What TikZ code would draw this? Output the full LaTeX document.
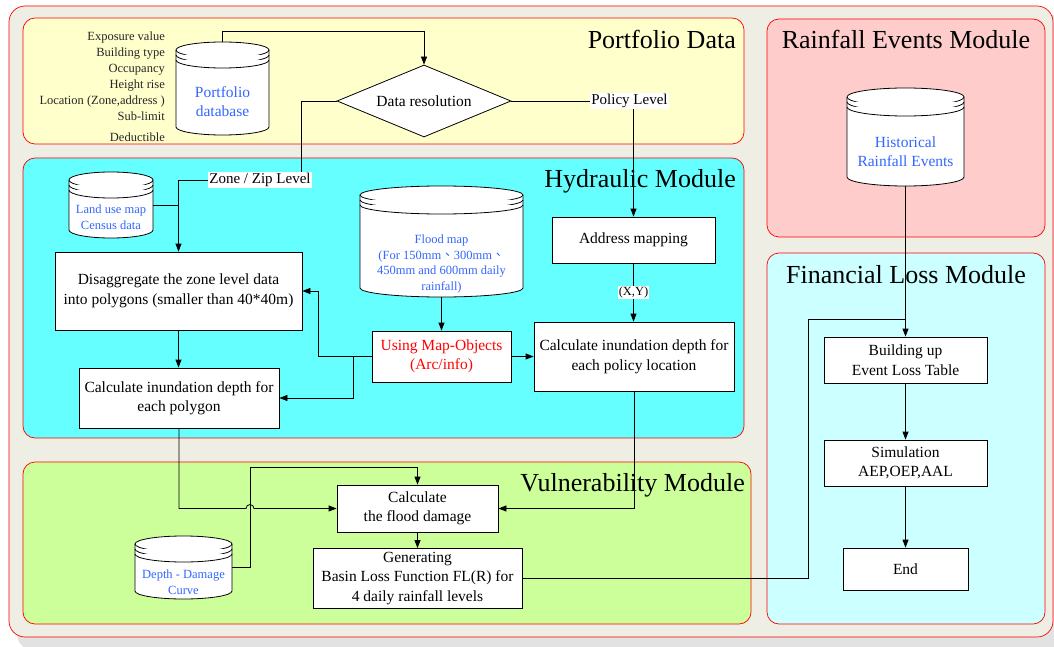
\documentclass[tikz,border=0pt]{standalone}
\usepackage{fontspec}
\setmainfont{Liberation Serif}
\newfontfamily\cjk{Noto Sans CJK TC}
\usetikzlibrary{arrows.meta,shapes.geometric}

\definecolor{framebg}{HTML}{EEEEE4}
\definecolor{shadowgray}{HTML}{E2E2E2}
\definecolor{portfoliobg}{HTML}{FFFFCC}
\definecolor{hydrobg}{HTML}{66FFFF}
\definecolor{vulnbg}{HTML}{CCFF99}
\definecolor{rainbg}{HTML}{FFCCCC}
\definecolor{finbg}{HTML}{CCFFFF}
\definecolor{dbblue}{HTML}{3366FF}

% database cylinder: name, left, top, right, bottom, half height of the ellipse
\newcommand\dbase[6]{%
  \pgfmathsetmacro\dbrx{(#4-#2)/2}%
  \pgfmathsetmacro\dbcx{(#4+#2)/2}%
  \pgfmathsetmacro\dbcy{(#3+#5)/2}%
  \filldraw[dbline] (#2,#3+#6) -- (#2,#5-#6)
    arc[start angle=180,end angle=360,x radius=\dbrx pt,y radius=#6pt]
    -- (#4,#3+#6)
    arc[start angle=0,end angle=180,x radius=\dbrx pt,y radius=#6pt] -- cycle;
  \foreach \dbk in {0,5,10}
    \draw[dbline] (#2,#3+#6+\dbk) arc[start angle=180,end angle=360,x radius=\dbrx pt,y radius=#6pt];
  \node[inner sep=0pt,minimum width=#4-#2,minimum height=#5-#3] (#1) at (\dbcx,\dbcy) {};
}

\begin{document}
\begin{tikzpicture}[x=1pt,y=-1pt,
  panel/.style={draw=red,line width=0.7pt,rounded corners=12pt},
  title/.style={font=\fontsize{26}{31}\selectfont,inner sep=0pt},
  attr/.style={font=\fontsize{12.5}{15}\selectfont,inner sep=0pt,anchor=base east,text=black!85},
  box/.style={draw=black,fill=white,line width=0.8pt,align=center,inner sep=0pt,
              font=\fontsize{15.5}{19.5}\selectfont},
  dbline/.style={draw=black,fill=white,line width=0.8pt},
  dbtext/.style={text=dbblue,align=center,inner sep=0pt,font=\fontsize{15.5}{19}\selectfont},
  dbsmall/.style={text=dbblue,align=center,inner sep=0pt,font=\fontsize{12.5}{15.7}\selectfont},
  lbl/.style={fill=white,inner sep=1pt,font=\fontsize{15}{18}\selectfont},
  conn/.style={draw=black,line width=0.8pt},
  arr/.style={conn,-{Triangle[length=8pt,width=6pt]}}]

\fill[white] (0,0) rectangle (1054,647);
\useasboundingbox (0,0) rectangle (1054,647);

% outer frame with its shadow
\fill[shadowgray,rounded corners=16pt] (17,14) rectangle (1064,650);
\filldraw[fill=framebg,draw=red,line width=0.7pt,rounded corners=16pt] (9,6) rectangle (1053,637);

% module panels
\filldraw[panel,fill=portfoliobg] (23,18) rectangle (744,144);
\filldraw[panel,fill=hydrobg] (23,158) rectangle (744,438);
\filldraw[panel,fill=vulnbg] (23,462) rectangle (751,624);
\filldraw[panel,fill=rainbg] (767,19) rectangle (1045,237);
\filldraw[panel,fill=finbg] (767,253) rectangle (1045,624);

\node[title,anchor=base east] (tport) at (736,49) {Portfolio Data};
\node[title,anchor=base east] (thydro) at (736,188) {Hydraulic Module};
\node[title,anchor=base east] (tvuln) at (745,491) {Vulnerability Module};
\node[title,anchor=base] (train) at (906,49) {Rainfall Events Module};
\node[title,anchor=base] (tfin) at (906,283) {Financial Loss Module};

% portfolio attributes
\node[attr] (a1) at (165,40.5) {Exposure value};
\node[attr] (a2) at (165,56.5) {Building type};
\node[attr] (a3) at (165,72.5) {Occupancy};
\node[attr] (a4) at (165,88.5) {Height rise};
\node[attr] (a5) at (165,104.5) {Location (Zone,address )};
\node[attr] (a6) at (165,120.5) {Sub-limit};
\node[attr] (a7) at (165,141.5) {Deductible};

% databases
\dbase{pdb}{176}{42}{269}{135}{8}
\node[dbtext] (pdb-t) at (222.5,102) {Portfolio\\database};
\dbase{land}{69}{172}{153}{238}{8}
\node[dbsmall] (land-t) at (111,217) {Land use map\\Census data};
\dbase{flood}{360}{186}{523}{297}{9}
\node[dbsmall] (flood-t) at (441.5,264) {Flood map\\(For 150mm{\cjk 、}300mm{\cjk 、}\\450mm and 600mm daily\\rainfall)};
\dbase{ddc}{135}{536}{232}{599}{8}
\node[dbsmall] (ddc-t) at (183.5,582) {Depth - Damage\\Curve};
\dbase{hist}{847}{88}{964}{186}{9}
\node[dbtext] (hist-t) at (905.5,152) {Historical\\Rainfall Events};

% decision and labels
\node[diamond,draw=black,fill=white,line width=0.8pt,aspect=2.4,inner sep=1pt,
      minimum width=174pt,minimum height=72pt,font=\fontsize{15.5}{18}\selectfont] (dr) at (424,101) {Data resolution};
\node[lbl] (zone) at (260,180) {Zone / Zip Level};
\node[lbl] (pol) at (629.5,101) {Policy Level};

% process boxes
\node[box,minimum width=247,minimum height=78] (dis) at (178.5,291) {Disaggregate the zone level data\\into polygons (smaller than 40*40m)};
\node[box,minimum width=200,minimum height=60] (cpoly) at (179,398) {Calculate inundation depth for\\each polygon};
\node[box,minimum width=163,minimum height=46] (addr) at (633.5,240) {Address mapping};
\node[box,minimum width=200,minimum height=69] (cpol) at (634,356.5) {Calculate inundation depth for\\each policy location};
\node[box,minimum width=139,minimum height=51,text=red] (mo) at (441.5,356.5) {Using Map-Objects\\(Arc/info)};
\node[box,minimum width=161,minimum height=47] (fd) at (417.5,508.5) {Calculate\\the flood damage};
\node[box,minimum width=209,minimum height=60] (gen) at (417.5,578.5) {Generating\\Basin Loss Function FL(R) for\\4 daily rainfall levels};
\node[box,minimum width=163,minimum height=46] (bld) at (905.5,360) {Building up\\Event Loss Table};
\node[box,minimum width=163,minimum height=46] (sim) at (905.5,463) {Simulation\\AEP,OEP,AAL};
\node[box,minimum width=125,minimum height=42] (end) at (905.5,569) {End};

% connectors
\coordinate (hop) at (246,508.5);
\coordinate (fcorner) at (808,319);

\draw[arr] (pdb.north) -- ++(0,-10) -| (dr.north);
\draw[conn] (dr.west) -| ([xshift=41pt]zone.north);
\draw[arr] (zone.west) -| (dis.north);
\draw[conn] (land.east) -- (land.east -| dis.north);
\draw[conn] (dr.east) -- (pol.west);
\draw[arr] (addr.north |- pol.south) -- (addr.north);
\draw[arr] (dis.south) -- (dis.south |- cpoly.north);
\draw[arr] (flood.south) -- (flood.south |- mo.north);
\draw[arr] (mo.west) -- ++(-53,0) |- (dis.east);
\draw[arr] ([xshift=-18pt]mo.west) |- (cpoly.east);
\draw[arr] (mo.east) -- (mo.east -| cpol.west);
\draw[arr] (addr.south) -- node[lbl,font=\fontsize{12.5}{15}\selectfont] (xy) {(X,Y)} (addr.south |- cpol.north);
\draw[arr] (cpoly.south) |- (hop) arc[start angle=180,end angle=0,radius=4pt] -- (fd.west);
\draw[arr] (cpol.south) |- (fd.east);
\draw[arr] (ddc.east) -- ++(18,0) -- ++(0,-100) -| (fd.north);
\draw[arr] (fd.south) -- (gen.north);
\draw[conn] (gen.east) -| (fcorner) -- (fcorner -| bld.north);
\draw[arr] (hist.south) -- (hist.south |- bld.north);
\draw[arr] (bld.south) -- (sim.north);
\draw[arr] (sim.south) -- (end.north);

\end{tikzpicture}
\end{document}
